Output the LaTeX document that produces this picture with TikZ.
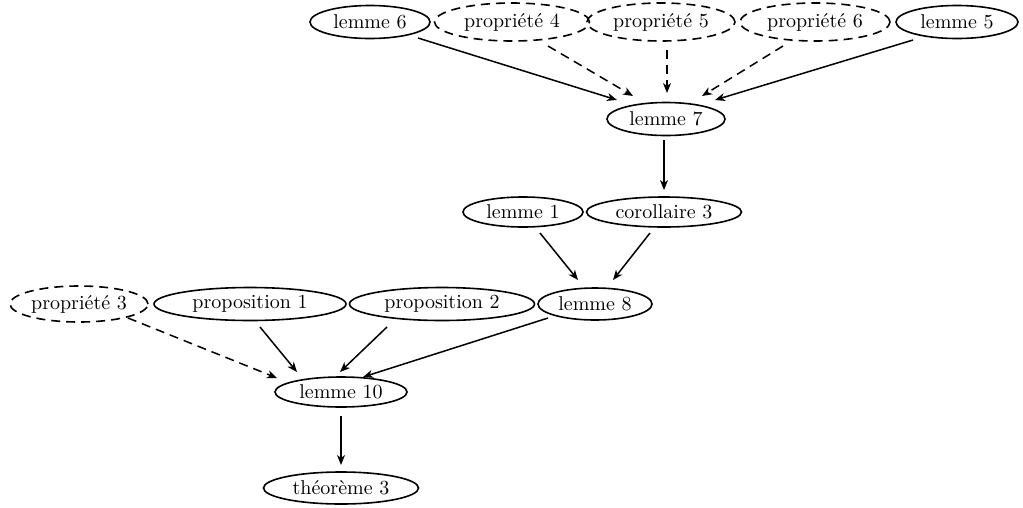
\documentclass[tikz,border=0pt]{standalone}
\usepackage{fontspec}
\usetikzlibrary{shapes.geometric,arrows.meta}
\newfontfamily\labelfont{lmroman10-regular.otf}
\begin{document}
\begin{tikzpicture}[x=1pt,y=-1pt,
  every node/.style={font=\labelfont\fontsize{20}{23}\selectfont},
  res/.style={ellipse,draw,line width=1.6pt,inner sep=0pt,outer sep=0pt,minimum height=33pt},
  hyp/.style={res,dash pattern=on 9pt off 6pt,minimum height=38pt},
  link/.style={line width=1.5pt,-{Stealth[length=10pt,width=8pt,inset=3pt]}},
  hyplink/.style={link,dash pattern=on 9pt off 6pt}]
\useasboundingbox (0,0) rectangle (1023,507);

% first row: results used by lemme 7
\node[res,minimum width=120pt] (l6) at (370,22) {lemme 6};
\node[hyp,minimum width=155pt] (p4) at (512,22) {propriété 4};
\node[hyp,minimum width=148pt] (p5) at (661,22) {propriété 5};
\node[hyp,minimum width=150pt] (p6) at (815,22) {propriété 6};
\node[res,minimum width=122pt] (l5) at (957,22) {lemme 5};

\node[res,minimum width=118pt] (l7) at (666,119) {lemme 7};

\node[res,minimum width=120pt,minimum height=30pt] (l1) at (523,212) {lemme 1};
\node[res,minimum width=155pt,minimum height=30pt] (c3) at (664,212) {corollaire 3};

\node[hyp,minimum width=138pt,minimum height=36pt] (p3) at (79,304) {propriété 3};
\node[res,minimum width=192pt] (pr1) at (250,304) {proposition 1};
\node[res,minimum width=185pt] (pr2) at (442,304) {proposition 2};
\node[res,minimum width=114pt,minimum height=32pt] (l8) at (595,304) {lemme 8};

\node[res,minimum width=132pt,minimum height=30pt] (l10) at (341,392) {lemme 10};
\node[res,minimum width=155pt,minimum height=32pt] (t3) at (341,488) {théorème 3};

% dependencies
\draw[link]     ([shift={(48,16)}]l6.center)  -- ([shift={(-49,-19)}]l7.center);
\draw[hyplink]  ([shift={(36,24)}]p4.center)  -- ([shift={(-33,-23)}]l7.center);
\draw[hyplink]  ([shift={(6,28)}]p5.center)   -- ([shift={(1,-26)}]l7.center);
\draw[hyplink]  ([shift={(-32,24)}]p6.center) -- ([shift={(36,-23)}]l7.center);
\draw[link]     ([shift={(-44,18)}]l5.center) -- ([shift={(49,-19)}]l7.center);

\draw[link]     ([shift={(-2,21)}]l7.center)  -- ([shift={(0,-22)}]c3.center);

\draw[link]     ([shift={(17,21)}]l1.center)  -- ([shift={(-17,-24)}]l8.center);
\draw[link]     ([shift={(-14,21)}]c3.center) -- ([shift={(18,-24)}]l8.center);

\draw[hyplink]  ([shift={(49,14)}]p3.center)  -- ([shift={(-64,-14)}]l10.center);
\draw[link]     ([shift={(10,23)}]pr1.center) -- ([shift={(-44,-20)}]l10.center);
\draw[link]     ([shift={(-55,23)}]pr2.center)-- ([shift={(-1,-20)}]l10.center);
\draw[link]     ([shift={(-47,14)}]l8.center) -- ([shift={(22,-15)}]l10.center);

\draw[link]     ([shift={(0,24)}]l10.center)  -- ([shift={(0,-23)}]t3.center);
\end{tikzpicture}
\end{document}
